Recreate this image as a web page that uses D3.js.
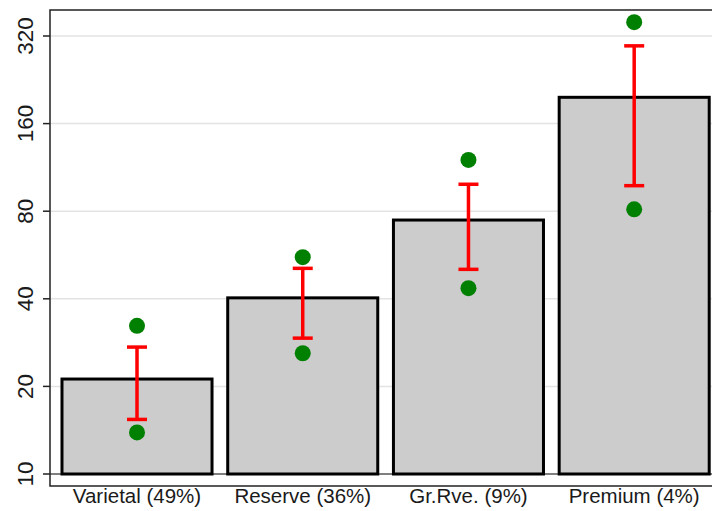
<!DOCTYPE html>
<html>
<head>
<meta charset="utf-8">
<script src="https://cdn.jsdelivr.net/npm/d3@7"></script>
<style>
  body { margin: 0; background: #fff; }
  text { font-family: "Liberation Sans", Arial, sans-serif; fill: #1a1a1a; }
</style>
</head>
<body>
<div id="chart"></div>
<script>
// categories and values (log2 y axis)
var categories = ["Varietal (49%)", "Reserve (36%)", "Gr.Rve. (9%)", "Premium (4%)"];
var barValues = [21.2, 40.3, 74.6, 197];
var ciLow = [15.4, 29.3, 50.5, 97.9];
var ciHigh = [27.3, 50.9, 99, 296];
var dotLow = [13.9, 26.0, 43.5, 81.2];
var dotHigh = [32.3, 55.6, 120, 357];
var yTicks = [10, 20, 40, 80, 160, 320];

var width = 712, height = 511;
var frame = { left: 50, top: 10, right: 717, bottom: 486 };

var svg = d3.select("#chart").append("svg")
    .attr("width", width)
    .attr("height", height);

var x = d3.scaleBand()
    .domain(categories)
    .range([54.2, 717])
    .paddingInner(0.0947)
    .paddingOuter(0.047);

var y = d3.scaleLog()
    .base(2)
    .domain([10, 320])
    .range([474, 36]);

//gridlines
svg.append("g").selectAll("line")
    .data(yTicks)
    .enter().append("line")
    .attr("x1", frame.left).attr("x2", frame.right)
    .attr("y1", function(d) { return y(d); })
    .attr("y2", function(d) { return y(d); })
    .style("stroke", function(d) { return d === 10 ? "#555" : "#e3e3e3"; })
    .style("stroke-width", 1.5);

//bars
svg.append("g").selectAll("rect")
    .data(barValues)
    .enter().append("rect")
    .attr("x", function(d, i) { return x(categories[i]); })
    .attr("y", function(d) { return y(d); })
    .attr("width", x.bandwidth())
    .attr("height", function(d) { return y(10) - y(d); })
    .style("fill", "#cccccc")
    .style("stroke", "#000")
    .style("stroke-width", 3);

//error bars
var cx = function(i) { return x(categories[i]) + x.bandwidth() / 2; };
var err = svg.append("g").style("stroke", "#ff0000").style("stroke-width", 3.5);
categories.forEach(function(c, i) {
    err.append("line")
        .attr("x1", cx(i)).attr("x2", cx(i))
        .attr("y1", y(ciLow[i])).attr("y2", y(ciHigh[i]));
    [ciLow[i], ciHigh[i]].forEach(function(v) {
        err.append("line")
            .attr("x1", cx(i) - 10).attr("x2", cx(i) + 10)
            .attr("y1", y(v)).attr("y2", y(v));
    });
});

//dots
var dots = svg.append("g");
categories.forEach(function(c, i) {
    [dotLow[i], dotHigh[i]].forEach(function(v) {
        dots.append("circle")
            .attr("cx", cx(i))
            .attr("cy", y(v))
            .attr("r", 8)
            .style("fill", "#008000");
    });
});

//frame
svg.append("rect")
    .attr("x", frame.left).attr("y", frame.top)
    .attr("width", frame.right - frame.left)
    .attr("height", frame.bottom - frame.top)
    .style("fill", "none")
    .style("stroke", "#222")
    .style("stroke-width", 1.5);

//y axis ticks and labels
var yAxis = svg.append("g");
yAxis.selectAll("line")
    .data(yTicks)
    .enter().append("line")
    .attr("x1", 43).attr("x2", frame.left)
    .attr("y1", function(d) { return y(d); })
    .attr("y2", function(d) { return y(d); })
    .style("stroke", "#222")
    .style("stroke-width", 1.5);
yAxis.selectAll("text")
    .data(yTicks)
    .enter().append("text")
    .attr("transform", function(d) { return "translate(33," + y(d) + ") rotate(-90)"; })
    .attr("text-anchor", "middle")
    .style("font-size", "22.5px")
    .text(function(d) { return d; });

//x labels
svg.append("g").selectAll("text")
    .data(categories)
    .enter().append("text")
    .attr("x", function(d) { return x(d) + x.bandwidth() / 2; })
    .attr("y", 503)
    .attr("text-anchor", "middle")
    .style("font-size", "20.5px")
    .text(function(d) { return d; });
</script>
</body>
</html>
